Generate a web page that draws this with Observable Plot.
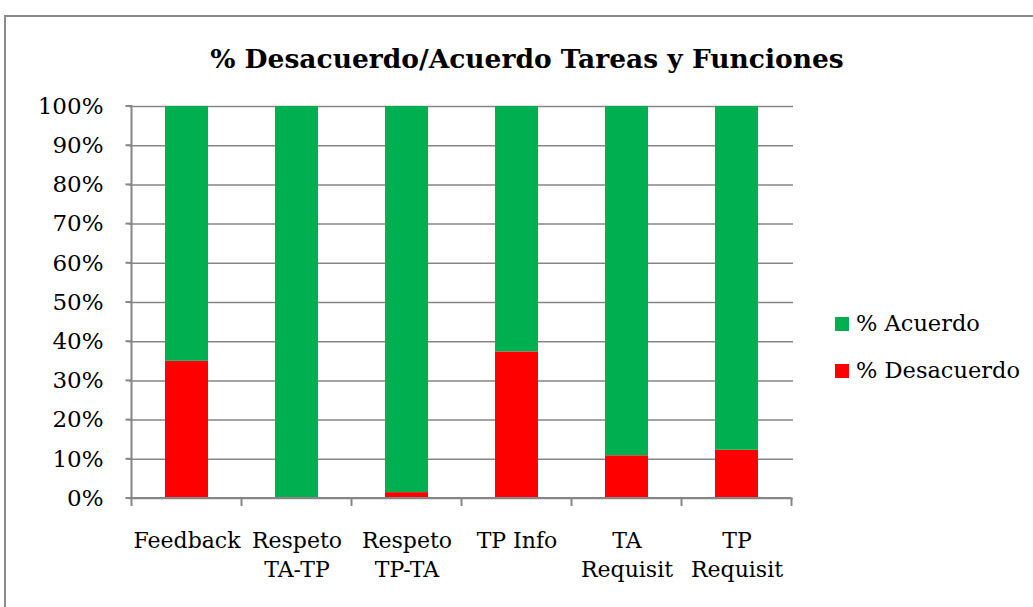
<!DOCTYPE html>
<html><head><meta charset="utf-8">
<script src="https://cdn.jsdelivr.net/npm/d3@7"></script>
<script src="https://cdn.jsdelivr.net/npm/@observablehq/plot@0.6"></script>
<style>
body{margin:0;background:#fff;}
#wrap{position:relative;width:1033px;height:607px;overflow:hidden;font-family:"DejaVu Serif",serif;background:#fff;}
#chart{position:absolute;left:0;top:0;}
#border{position:absolute;left:4px;top:15px;width:1100px;height:700px;border:2px solid #8a8a8a;box-sizing:border-box;pointer-events:none;}
#title{position:absolute;left:0;width:1054px;top:43px;text-align:center;font-weight:bold;font-size:26.5px;color:#000;white-space:nowrap;line-height:1.2;}
.leg{position:absolute;left:835px;font-size:22.5px;color:#000;white-space:nowrap;line-height:1;}
.leg i{display:inline-block;width:14px;height:14px;margin-right:7px;vertical-align:0px;}
</style>
</head><body>
<div id="wrap">
  <div id="chart"></div>
  <div id="border"></div>
  <div id="title">% Desacuerdo/Acuerdo Tareas y Funciones</div>
  <div id="legend"></div>
</div>
<script>
const categories = ["Feedback", "Respeto TA-TP", "Respeto TP-TA", "TP Info", "TA Requisit", "TP Requisit"];
const tickLabels = ["Feedback", "Respeto\nTA-TP", "Respeto\nTP-TA", "TP Info", "TA\nRequisit", "TP\nRequisit"];
const desacuerdo = [35.0, 0, 1.5, 37.4, 10.9, 12.3];
const acuerdo = [65.0, 100, 98.5, 62.6, 89.1, 87.7];
const seriesNames = ["% Desacuerdo", "% Acuerdo"];
const seriesColors = ["#FF0000", "#00B050"];
const yTicks = [0, 10, 20, 30, 40, 50, 60, 70, 80, 90, 100];

const rows = [];
categories.forEach((c, i) => {
  rows.push({cat: c, series: seriesNames[0], value: desacuerdo[i]});
  rows.push({cat: c, series: seriesNames[1], value: acuerdo[i]});
});
const labelOf = new Map(categories.map((c, i) => [c, tickLabels[i]]));

const axisFrame = (index, scales) => {
  const x = scales.x, y = scales.y;
  const ns = "http://www.w3.org/2000/svg";
  const g = document.createElementNS(ns, "g");
  const xs = categories.map(c => x(c));
  const bw = typeof x.bandwidth === "function" ? x.bandwidth() : (+x.bandwidth || 0);
  const step = xs.length > 1 ? xs[1] - xs[0] : bw;
  const centers = xs.map(v => v + bw / 2);
  const bounds = centers.map(c => c - step / 2).concat([centers[centers.length - 1] + step / 2]);
  const y0 = y(0), y1 = y(100);
  const line = (ax, ay, bx, by) => {
    const l = document.createElementNS(ns, "line");
    l.setAttribute("x1", ax); l.setAttribute("y1", ay);
    l.setAttribute("x2", bx); l.setAttribute("y2", by);
    l.setAttribute("stroke", "#868686"); l.setAttribute("stroke-width", 2);
    g.appendChild(l);
  };
  line(bounds[0], y1 - 1, bounds[0], y0);
  line(bounds[0], y0, bounds[bounds.length - 1], y0);
  bounds.forEach(b => line(b, y0, b, y0 + 8));
  yTicks.forEach(t => line(bounds[0] - 6, y(t), bounds[0], y(t)));
  return g;
};

const chart = Plot.plot({
  width: 1033,
  height: 607,
  marginLeft: 129,
  marginRight: 240,
  marginTop: 106,
  marginBottom: 109,
  style: {fontFamily: "'DejaVu Serif', serif", fontSize: "22px", color: "#000", background: "transparent"},
  x: {domain: categories, paddingInner: 0.611, paddingOuter: 0.3055, align: 0.5, label: null},
  y: {domain: [0, 100], label: null},
  color: {domain: seriesNames, range: seriesColors},
  marks: [
    Plot.gridY(yTicks, {stroke: "#868686", strokeOpacity: 1, strokeWidth: 1.5}),
    Plot.barY(rows, {x: "cat", y: "value", fill: "series", order: seriesNames}),
    Plot.axisY(yTicks, {tickSize: 0, tickPadding: 26, tickFormat: d => d + "%", fontSize: 23, fill: "#000"}),
    Plot.axisX({tickSize: 0, tickPadding: 28, tickFormat: d => labelOf.get(d), lineHeight: 1.35, fontSize: 22, fill: "#000"}),
    axisFrame
  ]
});
document.getElementById("chart").appendChild(chart);

const legend = document.getElementById("legend");
const legendItems = [[seriesNames[1], seriesColors[1], 312], [seriesNames[0], seriesColors[0], 359]];
legendItems.forEach(([name, color, top]) => {
  const d = document.createElement("div");
  d.className = "leg";
  d.style.top = top + "px";
  d.innerHTML = `<i style="background:${color}"></i>${name}`;
  legend.appendChild(d);
});
</script>
</body></html>
